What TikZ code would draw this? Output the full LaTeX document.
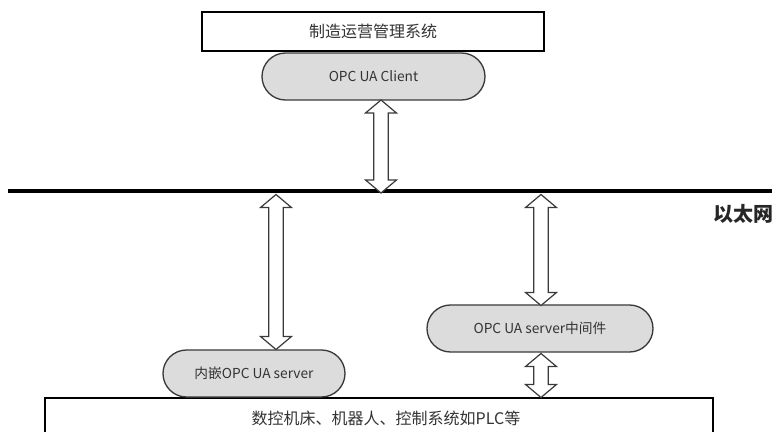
\documentclass[tikz,border=0pt]{standalone}
\usepackage{fontspec}
\setmainfont{Noto Sans CJK SC}
\usetikzlibrary{shapes.misc,calc}
\definecolor{pillfill}{HTML}{DCDCDC}
\definecolor{edge}{HTML}{3A3A3A}
\tikzset{
  sysbox/.style={draw=black, line width=1.1pt, fill=white, inner sep=0pt, text=black!80, font=\fontsize{12}{14}\selectfont},
  pill/.style={rounded rectangle, draw=edge, line width=1pt, fill=pillfill, inner sep=0pt, minimum height=47*0.75pt, text=black!80, font=\fontsize{10.3}{12}\selectfont},
  blockarrow/.style={draw=edge, line width=0.9pt, fill=white, line join=miter},
  bus/.style={line width=3pt, draw=black}
}
% vertical double-headed hollow block arrow between two named points (top, bottom)
\newcommand\vdblarrow[2]{%
  \draw[blockarrow] let \p1=(#1), \p2=(#2) in
    (\x1,\y1) -- (\x1+11.6pt,\y1-9.75pt) -- (\x1+5.4pt,\y1-9.75pt)
    -- (\x1+5.4pt,\y2+9.75pt) -- (\x1+11.6pt,\y2+9.75pt) -- (\x2,\y2)
    -- (\x1-11.6pt,\y2+9.75pt) -- (\x1-5.4pt,\y2+9.75pt)
    -- (\x1-5.4pt,\y1-9.75pt) -- (\x1-11.6pt,\y1-9.75pt) -- cycle;}
\begin{document}
\begin{tikzpicture}[x=0.75pt,y=-0.75pt]
\useasboundingbox (0,0) rectangle (779,432);
\clip (0,0) rectangle (779,432);
\fill[white] (0,0) rectangle (779,432);

% boxes and pills
\node[sysbox, minimum width=342*0.75pt, minimum height=39*0.75pt] (mes) at (373,31.5) {制造运营管理系统};
\node[pill, minimum width=223*0.75pt] (client) at (373.5,76.5) {OPC UA Client};
\node[pill, minimum width=226*0.75pt] (mid) at (540,328.5) {OPC UA server中间件};
\node[sysbox, minimum width=668*0.75pt, minimum height=46*0.75pt] (dev) at (379,421) {};
\node[text=black!80, font=\fontsize{12}{14}\selectfont] (devtext) at (386,418) {数控机床、机器人、控制系统如PLC等};
\node[pill, minimum width=182*0.75pt] (emb) at (254,373.5) {内嵌OPC UA server};

% Ethernet bus
\coordinate (busL) at (8,191);
\coordinate (busR) at (772,191);
\draw[bus] (busL) -- (busR);
\node[font=\fontsize{15}{17}\selectfont\bfseries, text=black!85] (eth) at (743,214) {以太网};

% arrow end points
\coordinate (a1t) at (381,100);
\coordinate (a1b) at (381,193);
\coordinate (a2t) at (276,194.5);
\coordinate (a2b) at (276,349.5);
\coordinate (a3t) at (541,194.5);
\coordinate (a3b) at (541,305.5);
\coordinate (a4t) at (541,353.5);
\coordinate (a4b) at (541,397.5);

\vdblarrow{a1t}{a1b}
\vdblarrow{a2t}{a2b}
\vdblarrow{a3t}{a3b}
\vdblarrow{a4t}{a4b}
\end{tikzpicture}
\end{document}
